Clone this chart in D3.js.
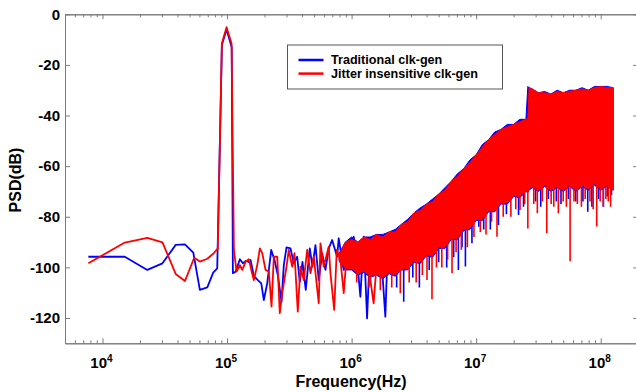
<!DOCTYPE html>
<html>
<head>
<meta charset="utf-8">
<script src="https://cdn.jsdelivr.net/npm/d3@7"></script>
<style>
  body { margin: 0; background: #fff; }
  svg { display: block; font-family: "Liberation Sans", Arial, sans-serif; }
</style>
</head>
<body>
<svg id="chart" width="636" height="392"></svg>
<script>
// ---- data (Hz, dB) ----
const seriesNames = ['Traditional clk-gen', 'Jitter insensitive clk-gen'];
const seriesColors = ['#0000ff', '#ff0000'];

// sparse part of the spectra, drawn as lines
const blueF = [7.7e3, 1.51e4, 2.29e4, 3.03e4, 3.87e4, 4.59e4, 5.36e4, 6.05e4, 6.94e4, 7.74e4, 8.34e4,
  9.1e4, 9.91e4, 1.09e5, 1.114e5, 1.171e5, 1.268e5, 1.34e5, 1.426e5, 1.516e5, 1.545e5, 1.641e5,
  1.767e5, 1.882e5, 1.974e5, 2.102e5, 2.263e5, 2.405e5, 2.556e5, 2.737e5, 2.856e5, 3.002e5, 3.232e5,
  3.435e5, 3.657e5, 3.837e5, 4.033e5, 4.285e5, 4.614e5, 4.85e5, 5.126e5, 5.448e5, 5.8e5, 6.166e5,
  6.553e5, 6.978e5, 7.653e5, 7.882e5, 8.644e5, 9.478e5, 1.039e6, 1.107e6, 1.176e6, 1.25e6, 1.331e6,
  1.415e6, 1.55e6, 1.7e6, 1.866e6, 1.95e6];
const blueDb = [-95.8, -95.8, -101.0, -98.4, -91.1, -90.9, -94.2, -108.9, -107.9, -102.1, -100.4,
  -12, -6, -13, -102.3, -101.7, -96.8, -98.4, -97.4, -98.1, -97.1, -103.4,
  -105.0, -106.3, -112.9, -106.3, -93.1, -97.1, -103.0, -113.6, -99.1, -92.1, -92.5,
  -98.4, -95.8, -105.7, -97.8, -108.9, -92.5, -99.7, -91.2, -105.0, -94.4, -101.0,
  -92.5, -89.2, -95.8, -88.5, -101.0, -93.1, -87.9, -97.1, -111.6, -87.9, -120.1,
  -89.2, -100, -90, -119.5, -92];

const redF = [7.7e3, 1.51e4, 2.29e4, 3.03e4, 3.87e4, 4.59e4, 5.45e4, 6.05e4, 6.94e4, 7.83e4, 8.43e4,
  9.08e4, 9.91e4, 1.087e5, 1.135e5, 1.193e5, 1.268e5, 1.325e5, 1.408e5, 1.497e5, 1.565e5, 1.641e5,
  1.748e5, 1.834e5, 1.917e5, 2.037e5, 2.165e5, 2.276e5, 2.375e5, 2.528e5, 2.652e5, 2.773e5, 3.002e5,
  3.132e5, 3.334e5, 3.479e5, 3.698e5, 3.887e5, 4.13e5, 4.399e5, 4.674e5, 4.968e5, 5.448e5, 5.623e5,
  5.975e5, 6.553e5, 6.761e5, 7.25e5, 7.6e5, 8.135e5, 8.644e5, 9.203e5, 1.009e6, 1.073e6, 1.176e6,
  1.331e6, 1.503e6, 1.649e6, 1.8e6];
const redDb = [-98.4, -90.2, -88.3, -90.1, -102.6, -105.4, -96.2, -97.7, -96.6, -94.4, -92.5,
  -11.5, -5.1, -11.5, -93.1, -101.7, -99.1, -101.0, -97.8, -96.8, -101.0, -105.0,
  -99.1, -92.5, -94.4, -101.0, -101.7, -115.5, -95.8, -95.8, -118.1, -110.2, -99.7,
  -93.1, -99.7, -94.4, -117.5, -99.7, -105.0, -93.1, -102.3, -95.8, -114.2, -90.5,
  -99.7, -91.8, -102.3, -116.8, -93.1, -97.1, -110.2, -93.1, -91.8, -101.0, -93.1,
  -95.8, -114.2, -87.9, -96];

// dense part: top and bottom of the solid band
const bandF = [7.94e5, 8.91e5, 1e6, 1.12e6, 1.26e6, 1.41e6, 1.58e6, 1.78e6, 2e6, 2.24e6, 2.51e6,
  2.82e6, 3.16e6, 3.55e6, 3.98e6, 4.47e6, 5.01e6, 5.62e6, 6.31e6, 7.08e6, 7.94e6, 8.91e6, 1e7,
  1.12e7, 1.26e7, 1.41e7, 1.58e7, 1.78e7, 2e7, 2.24e7, 2.51e7, 2.6e7, 2.66e7, 2.82e7, 3.16e7,
  3.55e7, 3.98e7, 4.47e7, 5.01e7, 5.62e7, 6.31e7, 7.08e7, 7.94e7, 8.91e7, 1e8, 1.12e8, 1.26e8];
const redHi = [-95, -90, -89, -90, -88, -89, -87, -88, -86, -86, -83, -82, -78.5, -77.5, -75, -74,
  -71, -69.5, -66, -64, -61, -58.5, -55.5, -52.5, -49.5, -47.5, -45.5, -44.5, -43.5, -42.5, -41.5,
  -41, -29, -29.5, -31, -31, -31.5, -30.5, -31, -30.5, -30, -29.5, -30, -29, -28.5, -29, -29];
const redLo = [-97, -100.5, -100.5, -102.5, -101.5, -103.5, -102.5, -104, -102, -103, -100.5, -100.5,
  -97.5, -98, -95, -95.5, -92, -92, -88.5, -88.5, -85, -84.5, -81, -81, -77.5, -77.5, -74.5, -74.5,
  -71.5, -72, -69.5, -70, -69, -68, -69.5, -67.5, -69.5, -68, -69.5, -67.5, -69.5, -67.5, -69, -67,
  -69, -67.5, -69];
const blueHi = [-94.5, -90, -88, -90, -88, -88, -87, -87, -86, -85, -83, -81, -78.5, -76.5, -75, -73,
  -71, -68.5, -66, -63, -61, -57.5, -55.5, -51.5, -49.5, -46.5, -45.5, -43.5, -43.5, -41.5, -41.5,
  -28.5, -29, -29.5, -31, -30.5, -31.5, -30, -31, -30, -30, -29, -30, -28.5, -28.5, -28.5, -29];
const blueLo = [-97.5, -101, -101, -103, -102, -104, -103, -104.5, -102.5, -103.5, -101, -101,
  -98, -98.5, -95.5, -96, -92.5, -92.5, -89, -89, -85.5, -85, -81.5, -81.5, -78, -78, -75, -75,
  -72, -72.5, -70, -70.5, -69.5, -68.5, -70, -68, -70, -68.5, -70, -68, -70, -68, -69.5, -67.5,
  -69.5, -68, -69.5];

// single spikes below the band
const redSpikeF = [1.1e6, 1.38e6, 1.7e6, 2.1e6, 2.46e6, 2.9e6, 3.3e6, 3.7e6, 4.03e6, 4.42e6, 4.8e6,
  5.3e6, 5.9e6, 6.4e6, 6.9e6, 7.6e6, 8.5e6, 9.6e6, 1.08e7, 1.2e7, 1.33e7, 1.47e7, 1.65e7, 1.9e7,
  2.08e7, 2.25e7, 2.45e7, 2.6e7, 2.9e7, 3.1e7, 3.4e7, 3.69e7, 4.0e7, 4.2e7, 4.57e7, 5.0e7, 5.3e7,
  5.68e7, 6.1e7, 6.5e7, 7.0e7, 7.5e7, 8.2e7, 8.7e7, 9.29e7, 9.9e7, 1.05e8, 1.1e8, 1.15e8, 1.2e8];
const redSpikeDb = [-106, -108, -109, -108, -110.2, -106, -106, -103, -105, -112.6, -100,
  -100, -97, -102.3, -94, -93, -92, -88, -86, -87, -82, -87.9, -80, -80,
  -77, -77.3, -75, -84.6, -75, -78.6, -74, -86.5, -75, -76, -78.6, -74, -76,
  -97.6, -74, -75, -76, -73, -74, -77, -83.8, -74, -76, -73, -74, -76];
const blueSpikeF = [2.3e6, 2.62e6, 3.1e6, 3.5e6, 4.2e6, 5.0e6, 5.8e6, 6.6e6, 7.2e6, 7.7e6, 8.2e6,
  9.25e6, 1.05e7, 1.15e7, 1.3e7, 1.51e7, 1.75e7, 2.19e7, 2.4e7, 3.0e7, 3.3e7, 3.8e7, 4.4e7, 4.8e7,
  5.5e7, 6.3e7, 7.2e7, 7.87e7, 8.5e7, 9.6e7, 1.05e8, 1.13e8, 1.22e8];
const blueSpikeDb = [-108, -113.6, -104, -108, -101, -98, -100, -96, -101, -92, -99.7,
  -90.5, -83.9, -85, -85, -83.3, -79, -79.3, -76, -74, -76, -73, -74, -75,
  -73, -74, -74, -78, -76, -73, -76, -72, -71.4];

const decadeTicks = [1e4, 1e5, 1e6, 1e7, 1e8];
const decadeExp = ['4', '5', '6', '7', '8'];
const yTicks = [-120, -100, -80, -60, -40, -20, 0];

// ---- layout ----
const x = d3.scaleLog().domain([5e3, 2e8]).range([65, 638.2]);
const y = d3.scaleLinear().domain([-130, 0]).range([343.3, 14.3]);
const axisColor = '#7a7a7a';

const svg = d3.select('#chart');
svg.append('rect').attr('width', 636).attr('height', 392).attr('fill', '#fff');

svg.append('clipPath').attr('id', 'plotclip')
  .append('rect')
    .attr('x', x.range()[0]).attr('y', y.range()[1])
    .attr('width', x.range()[1] - x.range()[0])
    .attr('height', y.range()[0] - y.range()[1]);

const plot = svg.append('g').attr('clip-path', 'url(#plotclip)');

const line = d3.line().x(d => x(d[0])).y(d => y(d[1]));
const band = d3.area().x(d => x(d[0])).y0(d => y(d[1])).y1(d => y(d[2]));

function drawSeries(F, Db, hi, lo, spF, spDb, color) {
  const loAt = d3.scaleLog().domain(bandF).range(lo);
  plot.append('path')
    .datum(d3.zip(bandF, lo, hi))
    .attr('d', band)
    .attr('fill', color)
    .attr('stroke', color)
    .attr('stroke-width', 1);
  plot.append('path')
    .datum(d3.zip(F, Db))
    .attr('d', line)
    .attr('fill', 'none')
    .attr('stroke', color)
    .attr('stroke-width', 1.8)
    .attr('stroke-linejoin', 'round');
  plot.append('g')
    .selectAll('line')
    .data(d3.zip(spF, spDb))
    .join('line')
      .attr('x1', d => x(d[0])).attr('x2', d => x(d[0]))
      .attr('y1', d => y(loAt(d[0]) + 3)).attr('y2', d => y(d[1]))
      .attr('stroke', color)
      .attr('stroke-width', 1.6);
}

drawSeries(blueF, blueDb, blueHi, blueLo, blueSpikeF, blueSpikeDb, seriesColors[0]);
drawSeries(redF, redDb, redHi, redLo, redSpikeF, redSpikeDb, seriesColors[1]);

// ---- axes (box with inward ticks) ----
const minorTicks = x.ticks().filter(v => Math.abs(Math.log10(v) - Math.round(Math.log10(v))) > 1e-6);

function styleAxis(g) {
  g.selectAll('path, line').attr('stroke', axisColor).attr('stroke-width', 1);
  g.selectAll('text').remove();
}

const yB = y.range()[0], yT = y.range()[1], xL = x.range()[0], xR = x.range()[1];

svg.append('g').attr('transform', `translate(0,${yB})`)
  .call(d3.axisBottom(x).tickValues(minorTicks).tickSize(-3).tickSizeOuter(0)).call(styleAxis);
svg.append('g').attr('transform', `translate(0,${yB})`)
  .call(d3.axisBottom(x).tickValues(decadeTicks).tickSize(-5).tickSizeOuter(0)).call(styleAxis);
svg.append('g').attr('transform', `translate(0,${yT})`)
  .call(d3.axisTop(x).tickValues(minorTicks).tickSize(-3).tickSizeOuter(0)).call(styleAxis);
svg.append('g').attr('transform', `translate(0,${yT})`)
  .call(d3.axisTop(x).tickValues(decadeTicks).tickSize(-5).tickSizeOuter(0)).call(styleAxis);
svg.append('g').attr('transform', `translate(${xL},0)`)
  .call(d3.axisLeft(y).tickValues(yTicks).tickSize(-5).tickSizeOuter(0)).call(styleAxis);
svg.append('g').attr('transform', `translate(${xR},0)`)
  .call(d3.axisRight(y).tickValues(yTicks).tickSize(-5).tickSizeOuter(0)).call(styleAxis);

// y tick labels
svg.append('g')
  .attr('font-size', 15).attr('font-weight', 'bold').attr('text-anchor', 'end')
  .selectAll('text')
  .data(yTicks)
  .join('text')
    .attr('x', xL - 5)
    .attr('y', d => y(d) + 5.3)
    .text(d => d === 0 ? '0' : '-' + Math.abs(d));

// x tick labels: 10 with superscript exponent
const xl = svg.append('g').attr('font-weight', 'bold').attr('text-anchor', 'middle')
  .selectAll('text')
  .data(d3.zip(decadeTicks, decadeExp))
  .join('text')
    .attr('x', d => x(d[0]) - 1)
    .attr('y', yB + 25)
    .attr('font-size', 15);
xl.append('tspan').text('10');
xl.append('tspan').attr('font-size', 10).attr('dy', -6).text(d => d[1]);

// axis titles
svg.append('text')
  .attr('x', 351).attr('y', 387)
  .attr('text-anchor', 'middle').attr('font-size', 16).attr('font-weight', 'bold')
  .text('Frequency(Hz)');
svg.append('text')
  .attr('transform', 'translate(21,180) rotate(-90)')
  .attr('text-anchor', 'middle').attr('font-size', 16).attr('font-weight', 'bold')
  .text('PSD(dB)');

// ---- legend ----
const legend = svg.append('g').attr('transform', 'translate(287.5,45)');
legend.append('rect')
  .attr('width', 215).attr('height', 44)
  .attr('fill', '#fff').attr('stroke', '#555').attr('stroke-width', 1);
const items = legend.selectAll('g.item')
  .data(seriesNames)
  .join('g')
    .attr('transform', (d, i) => `translate(0,${15 + i * 13.6})`);
items.append('line')
  .attr('x1', 11).attr('x2', 36)
  .attr('stroke', (d, i) => seriesColors[i]).attr('stroke-width', 2.5);
items.append('text')
  .attr('x', 43.5).attr('y', 4.3)
  .attr('font-size', 12.6).attr('font-weight', 'bold')
  .text(d => d);
</script>
</body>
</html>
